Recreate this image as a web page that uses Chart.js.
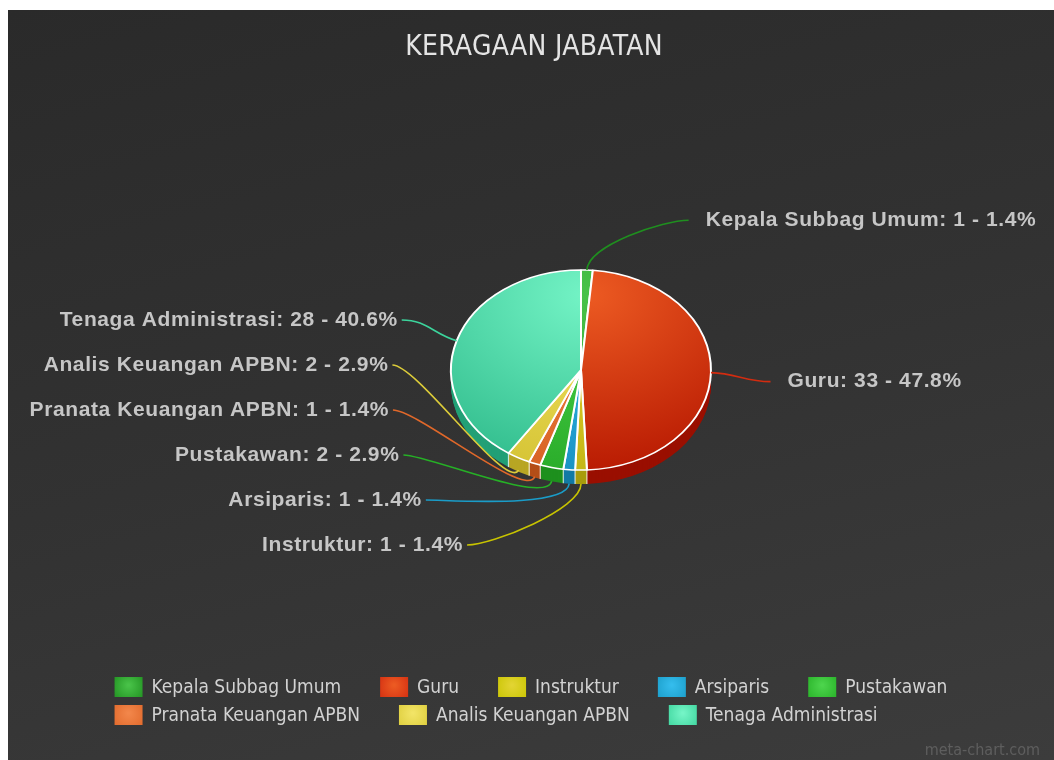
<!DOCTYPE html>
<html><head><meta charset="utf-8">
<script src="https://cdn.jsdelivr.net/npm/chart.js@4/dist/chart.umd.min.js"></script>
<style>
html,body{margin:0;padding:0;background:#fff;width:1054px;height:760px;overflow:hidden}
#wrap{position:absolute;left:8px;top:10px;width:1046px;height:750px;background:linear-gradient(165deg,#2a2a2a 0%,#323232 50%,#3c3c3c 100%)}
canvas{display:block}
</style></head><body>
<div id="wrap"><canvas id="c" width="1046" height="750"></canvas></div>
<script>
const titleText = 'KERAGAAN JABATAN';
const categories = ['Kepala Subbag Umum','Guru','Instruktur','Arsiparis','Pustakawan','Pranata Keuangan APBN','Analis Keuangan APBN','Tenaga Administrasi'];
const values = [1,33,1,1,2,1,2,28];
const topColors  = ['#48c248','#ec5a22','#e2d432','#34bcec','#4cd44c','#f2864a','#f2e466','#74f4c6'];
const baseColors = ['#2a9c2a','#b51600','#c2b414','#1890c0','#28aa28','#d66022','#d4c232','#2eba8a'];
const sideColors = ['#1d7a1d','#9a0f00','#a89c0c','#127aa4','#1e901e','#b44e18','#b8a624','#22a076'];
const legendColors = ['#1f8f1f','#d22c10','#c8c400','#1a9cc8','#26b026','#e0682a','#dccc3a','#3cd49c'];
const watermark = 'meta-chart.com';

const RADIUS = 130, SQUASH = 0.77, DEPTH = 14;
const total = values.reduce((a,b)=>a+b,0);
const percents = values.map(v => (v/total*100).toFixed(1));

function sliceGradient(c){
  const ch = c.chart, ca = ch.chartArea, i = c.dataIndex;
  if (!ca || i === undefined) return baseColors[i||0];
  const cx = (ca.left+ca.right)/2, cy = (ca.top+ca.bottom)/2;
  const g = ch.ctx.createRadialGradient(cx+8, cy-0.75*RADIUS, 0, cx+8, cy-0.75*RADIUS, 1.9*RADIUS);
  g.addColorStop(0, topColors[i]); g.addColorStop(1, baseColors[i]);
  return g;
}

const pie3d = {
  id:'pie3d',
  beforeDatasetsDraw(chart){
    const ctx = chart.ctx, arcs = chart.getDatasetMeta(0).data;
    const cx = arcs[0].x, cy = arcs[0].y;
    ctx.save();
    for (let d = DEPTH; d >= 1; d--) {
      arcs.forEach((arc,i)=>{
        ctx.save();
        ctx.translate(cx, cy+d); ctx.scale(1, SQUASH);
        ctx.beginPath(); ctx.moveTo(0,0);
        ctx.arc(0,0,arc.outerRadius,arc.startAngle,arc.endAngle);
        ctx.closePath();
        ctx.fillStyle = sideColors[i]; ctx.fill();
        ctx.restore();
      });
    }
    ctx.strokeStyle = 'rgba(255,255,255,0.75)'; ctx.lineWidth = 1.2;
    arcs.forEach(arc=>{
      const a = arc.startAngle;
      if (Math.sin(a) > 0.05) {
        const x = cx + arc.outerRadius*Math.cos(a), y = cy + SQUASH*arc.outerRadius*Math.sin(a);
        ctx.beginPath(); ctx.moveTo(x,y); ctx.lineTo(x,y+DEPTH); ctx.stroke();
      }
    });
    ctx.translate(cx, cy); ctx.scale(1, SQUASH); ctx.translate(-cx, -cy);
  },
  afterDatasetsDraw(chart){ chart.ctx.restore(); }
};

const overlay = {
  id:'overlay',
  afterDraw(chart){
    const ctx = chart.ctx, W = chart.width;
    const arcs = chart.getDatasetMeta(0).data;
    const cx = arcs[0].x, cy = arcs[0].y, r = arcs[0].outerRadius;
    // title
    ctx.save();
    ctx.font = '28px "DejaVu Sans Condensed", "Liberation Sans Narrow", "Roboto Condensed", sans-serif';
    ctx.letterSpacing = '0.3px';
    ctx.fillStyle = '#e4e4e4'; ctx.textAlign = 'center'; ctx.textBaseline = 'middle';
    ctx.fillText(titleText, W/2 + 3, 38);
    ctx.restore();

    // data labels
    const items = arcs.map((arc,i)=>{
      const mid = (arc.startAngle+arc.endAngle)/2;
      const theta = mid + Math.PI/2;
      return {i, mid, left: theta >= Math.PI - 1e-6, y: cy + 8 - 1.215*r*Math.cos(theta)};
    });
    const SP = 45, maxY = cy + 175, minY = cy - 165;
    [true,false].forEach(side=>{
      const g = items.filter(o=>o.left===side).sort((a,b)=>a.y-b.y);
      for (let k=0;k<g.length;k++){ if (g[k].y < minY) g[k].y = minY; if (k>0 && g[k].y < g[k-1].y+SP) g[k].y = g[k-1].y+SP; }
      for (let k=g.length-1;k>=0;k--){ if (g[k].y > maxY) g[k].y = maxY; if (k<g.length-1 && g[k].y > g[k+1].y-SP) g[k].y = g[k+1].y-SP; }
    });
    ctx.save();
    ctx.font = 'bold 21px "Liberation Sans", Arial, sans-serif';
    ctx.letterSpacing = '0.6px';
    ctx.textBaseline = 'middle';
    items.forEach(o=>{
      const dy = (o.y - (cy+15))/(1.54*r);
      const ex = Math.sqrt(Math.max(0, 1 - dy*dy))*1.458*r;
      const ax = o.left ? cx - ex : cx + ex;
      const c = Math.cos(o.mid), s = Math.sin(o.mid);
      const sx = cx + r*c, sy = cy + SQUASH*r*s + DEPTH*Math.max(0,s);
      ctx.beginPath();
      ctx.moveTo(sx, sy);
      ctx.bezierCurveTo(sx + 25*c, sy + 25*s, ax + (o.left?25:-25), o.y, ax, o.y);
      ctx.strokeStyle = legendColors[o.i]; ctx.lineWidth = 1.6; ctx.stroke();
      ctx.fillStyle = '#c6c6c6';
      const txt = categories[o.i] + ': ' + values[o.i] + ' - ' + percents[o.i] + '%';
      if (o.left){ ctx.textAlign='right'; ctx.fillText(txt, ax-4, o.y); }
      else { ctx.textAlign='left'; ctx.fillText(txt, ax+17, o.y); }
    });
    ctx.restore();

    // legend
    ctx.save();
    ctx.font = '19px "DejaVu Sans Condensed", "Liberation Sans Narrow", "Roboto Condensed", sans-serif';
    ctx.textBaseline = 'middle'; ctx.textAlign = 'left';
    const BW = 28, BH = 20, TX = 37, GAP = 39, MAXW = 880;
    const rows = [[]]; let rw = 0; const widths = [];
    categories.forEach((t,i)=>{
      const w = TX + ctx.measureText(t).width;
      if (rows[rows.length-1].length && rw + GAP + w > MAXW){ widths.push(rw); rows.push([]); rw = 0; }
      rw += (rows[rows.length-1].length ? GAP : 0) + w;
      rows[rows.length-1].push({i, w});
    });
    widths.push(rw);
    const startX = W/2 - Math.max(...widths)/2;
    rows.forEach((row, ri)=>{
      let x = startX; const y = 677 + ri*28;
      row.forEach(it=>{
        const g = ctx.createRadialGradient(x+BW/2, y-2, 1, x+BW/2, y, BW*0.7);
        g.addColorStop(0, topColors[it.i]); g.addColorStop(1, legendColors[it.i]);
        ctx.fillStyle = g; ctx.fillRect(x, y-BH/2, BW, BH);
        ctx.fillStyle = '#d2d2d2';
        ctx.fillText(categories[it.i], x+TX, y+1);
        x += it.w + GAP;
      });
    });
    // watermark
    ctx.font = '16px "DejaVu Sans Condensed", "Liberation Sans Narrow", sans-serif';
    ctx.fillStyle = '#5e5e5e'; ctx.textAlign = 'right';
    ctx.fillText(watermark, W - 14, 741);
    ctx.restore();
  }
};

new Chart(document.getElementById('c'), {
  type:'pie',
  data:{ labels: categories, datasets:[{ data: values, backgroundColor: sliceGradient, borderColor:'#ffffff', borderWidth:2, clip:false }]},
  options:{
    responsive:false, devicePixelRatio:1, animation:false, events:[],
    radius: RADIUS,
    layout:{ padding:{ left:120, right:20, top:60, bottom:90 } },
    plugins:{ legend:{display:false}, title:{display:false}, tooltip:{enabled:false} }
  },
  plugins:[pie3d, overlay]
});
</script>
</body></html>
